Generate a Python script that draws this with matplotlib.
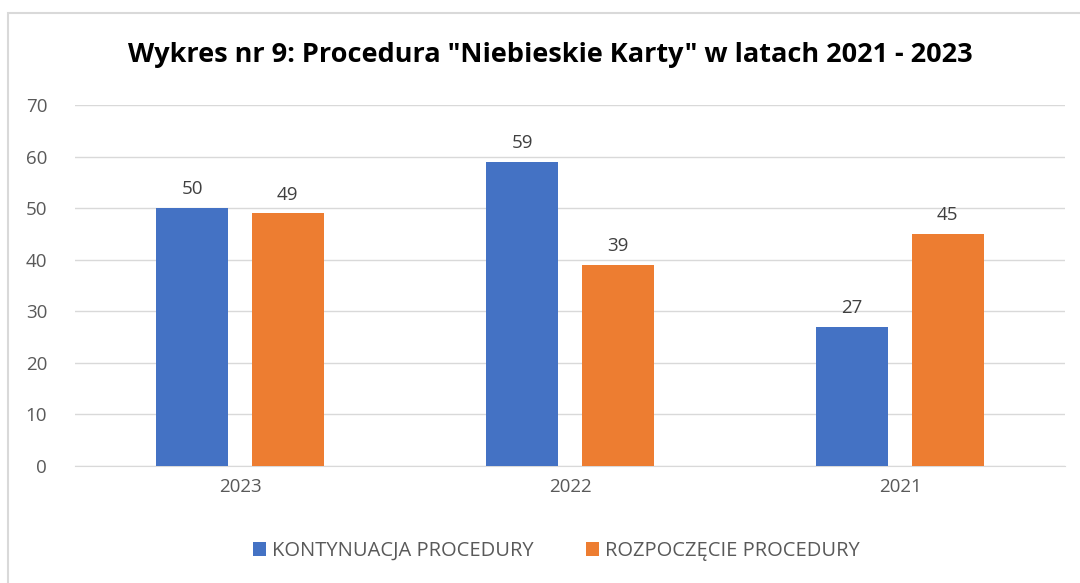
import numpy as np
import matplotlib.pyplot as plt
from matplotlib.patches import Rectangle

years = ["2023", "2022", "2021"]
kontynuacja = [50, 59, 27]
rozpoczecie = [49, 39, 45]
series_names = ["KONTYNUACJA PROCEDURY", "ROZPOCZĘCIE PROCEDURY"]
title = 'Wykres nr 9: Procedura "Niebieskie Karty" w latach 2021 - 2023'

blue = "#4472c4"
orange = "#ed7d31"
grey = "#595959"

plt.rcParams['font.family'] = ['Open Sans', 'DejaVu Sans']

W, H = 1080, 583
fig = plt.figure(figsize=(W / 100, H / 100), dpi=100)
# chart border (only top and left edges visible in the reference)
fig.patches.append(Rectangle((8 / W, -0.1), 1.2, (H - 13) / H + 0.1,
                             transform=fig.transFigure, fill=False,
                             edgecolor="#d9d9d9", linewidth=1.5))

ax = fig.add_axes([75 / W, (H - 466) / H, (1065 - 75) / W, (466 - 105) / H])

x = np.arange(len(years))
w = 0.22
off = 0.145
b1 = ax.bar(x - off, kontynuacja, w, color=blue, label=series_names[0], zorder=3)
b2 = ax.bar(x + off, rozpoczecie, w, color=orange, label=series_names[1], zorder=3)
for bars in (b1, b2):
    ax.bar_label(bars, padding=7, fontsize=13.5, color="#404040")

ax.set_xlim(-0.5, 2.5)
ax.set_ylim(0, 70)
ax.set_yticks(range(0, 71, 10))
ax.set_xticks(x, years)
ax.grid(axis="y", color="#d9d9d9", linewidth=1, zorder=0)
for s in ["top", "right", "left"]:
    ax.spines[s].set_visible(False)
ax.spines["bottom"].set_color("#d9d9d9")
ax.tick_params(axis="both", length=0, labelsize=13.5, labelcolor=grey)
ax.tick_params(axis="y", pad=20)
ax.tick_params(axis="x", pad=9)

fig.text(0.51, (H - 55) / H, title, ha="center", va="center",
         fontsize=19.5, fontweight="bold", color="black")

fig.legend(handles=[b1, b2], loc="center", bbox_to_anchor=(0.515, (H - 551) / H),
           ncol=2, frameon=False, fontsize=14.5, labelcolor=grey,
           handlelength=0.65, handleheight=0.65, columnspacing=2.6, handletextpad=0.3)

fig.savefig("out.png", dpi=100)
